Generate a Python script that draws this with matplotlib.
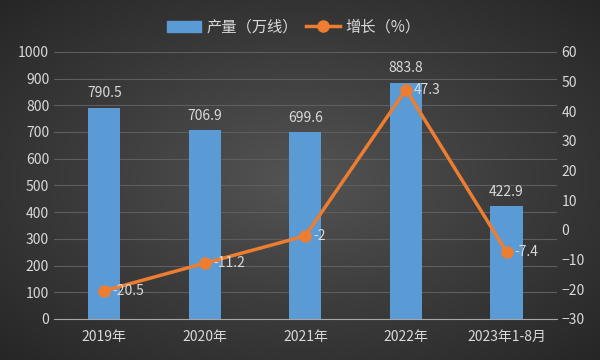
import numpy as np
import matplotlib.pyplot as plt
from matplotlib.colors import LinearSegmentedColormap
from matplotlib.lines import Line2D
from matplotlib.patches import Patch

plt.rcParams['font.family'] = ['Noto Sans CJK SC', 'DejaVu Sans']

categories = ['2019年', '2020年', '2021年', '2022年', '2023年1-8月']
output = [790.5, 706.9, 699.6, 883.8, 422.9]
growth = [-20.5, -11.2, -2, 47.3, -7.4]
growth_labels = ['-20.5', '-11.2', '-2', '47.3', '-7.4']

txt = '#d9d9d9'
fig = plt.figure(figsize=(6, 3.6), dpi=100)

# dark radial background, lighter in the middle
bg = fig.add_axes([0, 0, 1, 1])
yy, xx = np.mgrid[-1:1:200j, -1:1:300j]
r = np.sqrt(xx ** 2 + yy ** 2)
cmap = LinearSegmentedColormap.from_list('bg', ['#545454', '#3c3c3c', '#262626'])
bg.imshow(r, cmap=cmap, vmin=0, vmax=1.42, aspect='auto', extent=[0, 1, 0, 1])
bg.axis('off')

ax = fig.add_axes([0.09, 0.114, 0.838, 0.742])
ax.patch.set_alpha(0)
x = np.arange(len(categories))
ax.bar(x, output, width=0.32, color='#5b9bd5', zorder=2)
for xi, v in zip(x, output):
    ax.text(xi, v + 28, f'{v}', ha='center', va='bottom', color=txt, fontsize=10)
ax.set_ylim(0, 1000)
ax.set_yticks(range(0, 1001, 100))
ax.set_xlim(-0.5, len(categories) - 0.5)
ax.set_xticks(x)
ax.set_xticklabels(categories)
ax.grid(axis='y', color='#5e5e5e', linewidth=0.8, zorder=0)
for s in ['top', 'right', 'left']:
    ax.spines[s].set_visible(False)
ax.spines['bottom'].set_color('#a6a6a6')
ax.tick_params(colors=txt, labelsize=10, length=0)
ax.tick_params(axis='x', pad=8)

ax2 = ax.twinx()
ax2.plot(x, growth, color='#ed7d31', linewidth=2.5, marker='o', markersize=8, zorder=3)
for xi, v, lab in zip(x, growth, growth_labels):
    ax2.text(xi + 0.08, v, lab, ha='left', va='center', color=txt, fontsize=10)
ax2.set_ylim(-30, 60)
ax2.set_yticks(range(-30, 61, 10))
for s in ax2.spines.values():
    s.set_visible(False)
ax2.tick_params(colors=txt, labelsize=10, length=0)

handles = [Patch(color='#5b9bd5'),
           Line2D([], [], color='#ed7d31', linewidth=2.5, marker='o', markersize=8)]
fig.legend(handles, ['产量（万线）', '增长（%）'], loc='center', bbox_to_anchor=(0.49, 0.925),
           ncol=2, frameon=False, labelcolor=txt, fontsize=11, handlelength=2.2,
           columnspacing=0.5, handletextpad=0.4)

fig.savefig('out.png', dpi=100)
